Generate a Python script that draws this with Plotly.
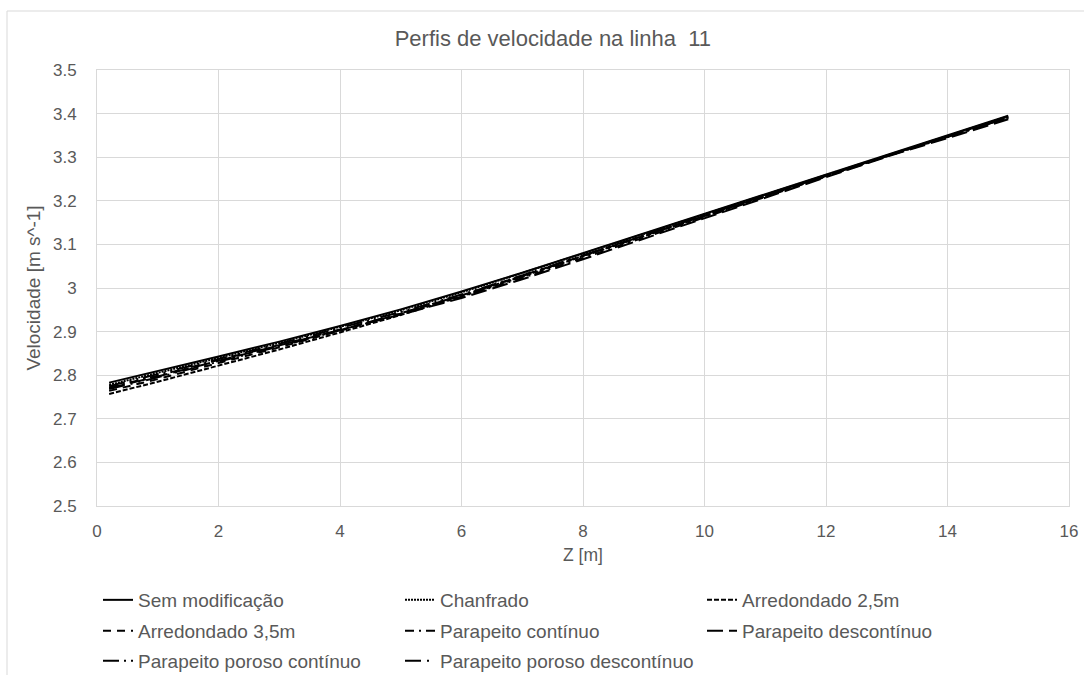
import plotly.graph_objects as go

# Perfis de velocidade ao longo da linha 11
z = [0.2, 1, 2, 3, 4, 5, 6, 7, 8, 9, 10, 11, 12, 13, 14, 15]

sem_modificacao = [2.783, 2.809, 2.843, 2.877, 2.913, 2.951, 2.992, 3.035, 3.080, 3.125, 3.170, 3.215, 3.260, 3.305, 3.350, 3.395]
chanfrado = [2.778, 2.805, 2.840, 2.874, 2.911, 2.949, 2.990, 3.034, 3.079, 3.124, 3.169, 3.214, 3.259, 3.304, 3.349, 3.394]
arredondado_25 = [2.757, 2.785, 2.822, 2.859, 2.898, 2.938, 2.981, 3.026, 3.073, 3.119, 3.165, 3.211, 3.257, 3.302, 3.348, 3.392]
arredondado_35 = [2.764, 2.791, 2.828, 2.864, 2.902, 2.941, 2.983, 3.028, 3.074, 3.120, 3.166, 3.212, 3.258, 3.303, 3.348, 3.393]
parapeito_continuo = [2.772, 2.799, 2.835, 2.869, 2.905, 2.941, 2.980, 3.023, 3.069, 3.115, 3.162, 3.209, 3.256, 3.302, 3.346, 3.390]
parapeito_descontinuo = [2.770, 2.797, 2.833, 2.868, 2.904, 2.939, 2.977, 3.020, 3.066, 3.113, 3.160, 3.207, 3.255, 3.301, 3.344, 3.387]
poroso_continuo = [2.775, 2.802, 2.837, 2.872, 2.908, 2.945, 2.985, 3.029, 3.075, 3.121, 3.167, 3.212, 3.258, 3.303, 3.347, 3.391]
poroso_descontinuo = [2.768, 2.795, 2.831, 2.866, 2.903, 2.942, 2.983, 3.027, 3.074, 3.120, 3.166, 3.211, 3.257, 3.302, 3.347, 3.391]

series = [
    ("Sem modificação", sem_modificacao, "solid"),
    ("Chanfrado", chanfrado, "2px,1px"),
    ("Arredondado 2,5m", arredondado_25, "5px,2px"),
    ("Arredondado 3,5m", arredondado_35, "8px,6px"),
    ("Parapeito contínuo", parapeito_continuo, "9px,5px,2px,5px"),
    ("Parapeito descontínuo", parapeito_descontinuo, "16px,6px"),
    ("Parapeito poroso contínuo", poroso_continuo, "16px,5px,2px,5px,2px,5px"),
    ("Parapeito poroso descontínuo", poroso_descontinuo, "16px,6px,2px,6px,2px,6px"),
]

x_ticks = [0, 2, 4, 6, 8, 10, 12, 14, 16]
y_ticks = [2.5, 2.6, 2.7, 2.8, 2.9, 3, 3.1, 3.2, 3.3, 3.4, 3.5]

TXT = "#595959"
GRID = "#d9d9d9"
FONT = "Liberation Sans, Arial, sans-serif"

# plot area in pixels: x 97..1069, y 70..506
PL, PR, PT, PB = 97, 1069, 70, 506


def py(pix):
    return (PB - pix) / (PB - PT)


def px(pix):
    return (pix - PL) / (PR - PL)


# one legend per row of three entries
legend_rows = ["legend", "legend", "legend", "legend2", "legend2", "legend2", "legend3", "legend3"]
row_centres = {"legend": 600, "legend2": 631, "legend3": 661}

fig = go.Figure()
for (name, vals, dash), lg in zip(series, legend_rows):
    fig.add_trace(go.Scatter(
        x=z, y=vals, name=name, mode="lines", legend=lg,
        line=dict(color="black", width=2, dash=dash),
    ))

legend_common = dict(orientation="h", x=px(98), xanchor="left", yanchor="middle",
                     entrywidth=257, entrywidthmode="pixels",
                     font=dict(size=19, color=TXT, family=FONT),
                     traceorder="normal", bgcolor="rgba(0,0,0,0)")

fig.update_layout(
    width=1084, height=675,
    margin=dict(l=PL, r=1084 - PR, t=PT, b=675 - PB, autoexpand=False),
    paper_bgcolor="white", plot_bgcolor="white",
    font=dict(family=FONT, color=TXT, size=17),
    title=dict(text="Perfis de velocidade na linha  11", x=0.51, xanchor="center",
               y=1 - 38 / 675, yanchor="middle",
               font=dict(size=22, color=TXT, family=FONT)),
    legend=dict(y=py(row_centres["legend"]), **legend_common),
    legend2=dict(y=py(row_centres["legend2"]), **legend_common),
    legend3=dict(y=py(row_centres["legend3"]), **legend_common),
    showlegend=True,
    shapes=[dict(type="rect", xref="paper", yref="paper",
                 x0=px(7), x1=px(1095), y0=py(690), y1=py(11),
                 line=dict(color=GRID, width=1), fillcolor="rgba(0,0,0,0)", layer="below")],
)

fig.update_xaxes(
    range=[0, 16], tickvals=x_ticks, ticktext=[str(v) for v in x_ticks],
    showgrid=True, gridcolor=GRID, gridwidth=1, automargin=False,
    showline=True, linecolor=GRID, mirror=True, zeroline=False,
    ticks="", ticklabelstandoff=10, tickfont=dict(size=17, color=TXT),
    title=dict(text="Z [m]", font=dict(size=17.5, color=TXT), standoff=8),
)
fig.update_yaxes(
    range=[2.5, 3.5], tickvals=y_ticks, ticktext=[f"{v:g}" for v in y_ticks],
    showgrid=True, gridcolor=GRID, gridwidth=1, automargin=False,
    showline=True, linecolor=GRID, mirror=True, zeroline=False,
    ticks="", ticklabelstandoff=16, tickfont=dict(size=17, color=TXT),
    title=dict(text="Velocidade [m s^-1]", font=dict(size=19, color=TXT), standoff=7),
)

fig.write_html("out.html")
